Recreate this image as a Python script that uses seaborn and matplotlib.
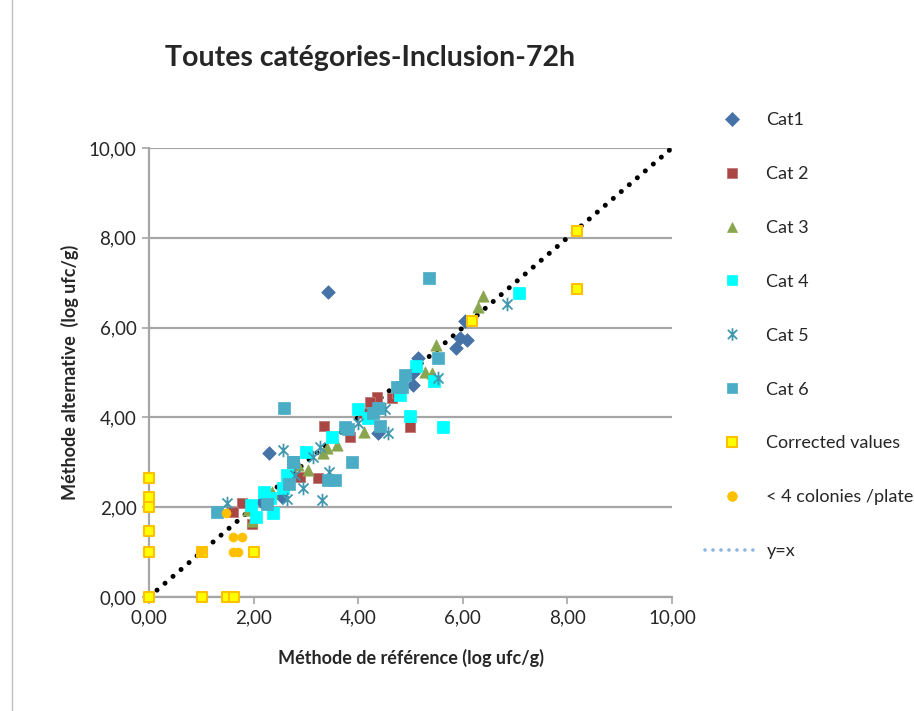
import numpy as np
import pandas as pd
import matplotlib.pyplot as plt
import seaborn as sns
from matplotlib.lines import Line2D
from matplotlib.path import Path
from matplotlib.ticker import FuncFormatter

sns.set_style('white')
plt.rcParams['font.family'] = ['Lato', 'DejaVu Sans']

# --- data (log ufc/g) ---
cat1_x = [3.42, 2.29, 6.04, 5.95, 6.08, 5.87, 5.14, 5.05, 5.05, 4.38, 2.16, 2.54]
cat1_y = [6.79, 3.20, 6.15, 5.77, 5.72, 5.54, 5.32, 4.99, 4.72, 3.65, 2.12, 2.23]

cat2_x = [3.35, 1.78, 1.61, 1.97, 3.23, 2.64, 2.89, 4.36, 4.23, 4.65, 3.84, 4.99, 4.10, 4.75]
cat2_y = [3.80, 2.09, 1.89, 1.62, 2.65, 2.67, 2.67, 4.45, 4.34, 4.43, 3.56, 3.79, 4.10, 4.55]

cat3_x = [6.39, 6.29, 5.49, 5.28, 5.41, 4.11, 3.60, 3.40, 3.33, 3.04, 2.85, 2.35, 1.89, 1.97]
cat3_y = [6.71, 6.46, 5.61, 5.01, 4.99, 3.67, 3.39, 3.32, 3.20, 2.83, 2.94, 2.34, 1.94, 1.70]

cat4_x = [7.07, 5.10, 5.45, 4.80, 4.99, 5.62, 4.00, 4.19, 3.50, 3.00, 2.64, 2.56, 2.20, 1.95, 2.37, 2.05, 2.32]
cat4_y = [6.77, 5.14, 4.81, 4.50, 4.03, 3.79, 4.19, 3.99, 3.56, 3.23, 2.72, 2.43, 2.34, 2.05, 1.87, 1.78, 2.20]

cat5_x = [6.84, 5.53, 4.57, 4.51, 4.00, 2.56, 3.27, 3.14, 2.79, 3.44, 2.94, 2.64, 3.31, 1.49]
cat5_y = [6.53, 4.88, 3.65, 4.19, 3.88, 3.27, 3.34, 3.12, 2.72, 2.78, 2.43, 2.18, 2.16, 2.09]

cat6_x = [5.36, 2.58, 1.30, 2.76, 2.68, 3.42, 3.55, 2.26, 3.80, 4.42, 3.88, 4.28, 4.38,
          4.74, 4.84, 4.89, 5.53, 3.75, 2.75]
cat6_y = [7.10, 4.20, 1.90, 3.00, 2.52, 2.60, 2.60, 2.07, 3.74, 3.81, 3.00, 4.10, 4.20,
          4.68, 4.68, 4.94, 5.32, 3.79, 3.00]

corr_x = [8.18, 8.18, 6.18, 0.00, 0.00, 0.00, 0.00, 0.00, 0.00, 1.01, 2.00, 1.01, 1.49, 1.62]
corr_y = [8.15, 6.86, 6.15, 2.65, 2.23, 2.00, 1.47, 1.00, 0.00, 1.00, 1.00, 0.00, 0.00, 0.00]

low_x = [1.47, 1.60, 1.78, 1.60, 1.70, 1.00]
low_y = [1.87, 1.34, 1.34, 1.00, 1.00, 1.02]

diag = [0, 10]

# asterisk marker: x plus vertical bar
star = Path([(-1, -1), (1, 1), (-1, 1), (1, -1), (0, -1.35), (0, 1.35)],
            [Path.MOVETO, Path.LINETO, Path.MOVETO, Path.LINETO, Path.MOVETO, Path.LINETO])

series = [
    ('Cat1', cat1_x, cat1_y, dict(marker='D', color='#4572A7', s=48, edgecolor='#4572A7', linewidth=0.5)),
    ('Cat 2', cat2_x, cat2_y, dict(marker='s', color='#AA4643', s=62, edgecolor='#C07875', linewidth=0.6)),
    ('Cat 3', cat3_x, cat3_y, dict(marker='^', color='#89A54E', s=66, edgecolor='#89A54E', linewidth=0.5)),
    ('Cat 4', cat4_x, cat4_y, dict(marker='s', color='#00FFFF', s=66, edgecolor='#00FFFF', linewidth=0.5)),
    ('Cat 5', cat5_x, cat5_y, dict(marker=star, color='#4198AF', s=95, edgecolor='#4198AF', linewidth=1.3)),
    ('Cat 6', cat6_x, cat6_y, dict(marker='s', color='#4BACC6', s=66, edgecolor='#4BACC6', linewidth=0.5)),
    ('Corrected values', corr_x, corr_y, dict(marker='s', color='#FFFF00', s=52, edgecolor='#FFC000', linewidth=1.5)),
    ('< 4 colonies /plate', low_x, low_y, dict(marker='o', color='#FFC000', s=42, edgecolor='#FFC000', linewidth=0.5)),
]

fig = plt.figure(figsize=(9.14, 7.11), dpi=100)
ax = fig.add_axes([149 / 914, 114 / 711, 523 / 914, 449 / 711])

sns.lineplot(x=diag, y=diag, ax=ax, color='black', linewidth=3.6,
             linestyle=(0, (0.01, 2.1)), dash_capstyle='round', zorder=2)

for name, xs, ys, kw in series:
    sns.scatterplot(x=xs, y=ys, ax=ax, clip_on=False, zorder=3, legend=False, **kw)

ax.set_xlim(0, 10)
ax.set_ylim(0, 10)
ax.set_xticks(np.arange(0, 11, 2))
ax.set_yticks(np.arange(0, 11, 2))
fmt = FuncFormatter(lambda v, p: f'{v:.2f}'.replace('.', ','))
ax.xaxis.set_major_formatter(fmt)
ax.yaxis.set_major_formatter(fmt)
ax.tick_params(axis='both', labelsize=13.5, length=5, width=1.2, color='#A6A6A6',
               direction='out', bottom=True, left=True, pad=4)
ax.yaxis.grid(True, color='#A6A6A6', linewidth=1.6)
ax.xaxis.grid(False)
for side in ['top', 'right']:
    ax.spines[side].set_visible(False)
for side in ['left', 'bottom']:
    ax.spines[side].set_color('#A6A6A6')
    ax.spines[side].set_linewidth(1.6)

ax.set_xlabel('Méthode de référence (log ufc/g)', fontsize=13, fontweight='bold', labelpad=16)
ax.set_ylabel('Méthode alternative  (log ufc/g)', fontsize=13, fontweight='bold', labelpad=7)

fig.text(370 / 914, 1 - 58 / 711, 'Toutes catégories-Inclusion-72h', ha='center', va='center',
         fontsize=20.5, fontweight='bold')

# legend with custom handles
handles = []
for name, xs, ys, kw in series:
    m = kw['marker']
    handles.append(Line2D([], [], linestyle='none', marker=m, markersize=9 if m is star else 7,
                          markerfacecolor=kw['color'], markeredgecolor=kw['edgecolor'],
                          markeredgewidth=kw['linewidth'], label=name))
handles.append(Line2D([], [], color='#8DB4E2', linewidth=2.6, linestyle=(0, (0.01, 2.2)),
                      dash_capstyle='round', label='y=x'))
fig.legend(handles=handles, loc='upper left', bbox_to_anchor=(705 / 914, 1 - 112 / 711),
           frameon=False, fontsize=13, labelspacing=2.1, handlelength=3.0,
           handletextpad=0.4, borderpad=0, borderaxespad=0)

# outer chart border (left edge visible)
fig.add_artist(Line2D([12 / 914, 12 / 914], [0, 1], color='#BFBFBF', linewidth=1))

plt.savefig('out.png', dpi=100)
